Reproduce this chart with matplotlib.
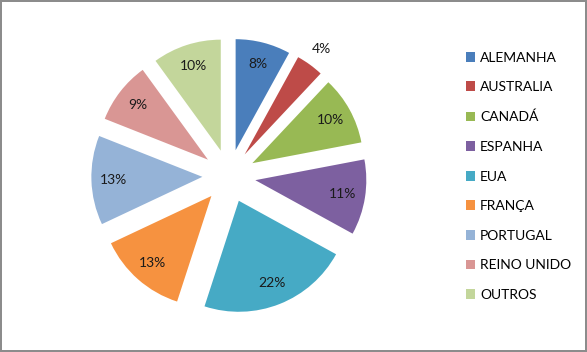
import matplotlib.pyplot as plt
import numpy as np

countries = ["ALEMANHA", "AUSTRALIA", "CANADÁ", "ESPANHA", "EUA",
             "FRANÇA", "PORTUGAL", "REINO UNIDO", "OUTROS"]
shares = [8, 4, 10, 11, 22, 13, 13, 9, 10]
colors = ["#4A7EBB", "#BE4B48", "#98B954", "#7D60A0", "#46AAC5",
          "#F69240", "#95B3D7", "#D99694", "#C3D69B"]

plt.rcParams['font.family'] = ['Lato', 'DejaVu Sans']

fig = plt.figure(figsize=(5.87, 3.52), dpi=100)
fig.patch.set_edgecolor("#8c8c8c")
fig.patch.set_linewidth(1.5)

px = 111.0
w = 2.6 * px
ax = fig.add_axes([(229 - w / 2) / 587, (176 - w / 2) / 352, w / 587, w / 352])

explode = [0.24] * len(shares)
wedges, texts, autotexts = ax.pie(shares, explode=explode, colors=colors,
                                  startangle=90, counterclock=False,
                                  autopct=lambda p: "%d%%" % round(p),
                                  pctdistance=0.8,
                                  textprops={'fontsize': 10, 'color': '#1a1a1a'})
# small slice label sits outside
wd = wedges[1]
ang = np.deg2rad((wd.theta1 + wd.theta2) / 2)
cx, cy = wd.center
autotexts[1].set_position((cx + 1.17 * np.cos(ang), cy + 1.17 * np.sin(ang)))

ax.set_xlim(-1.3, 1.3)
ax.set_ylim(-1.3, 1.3)
ax.set_aspect('equal')

fig.legend(wedges, countries, loc='upper left', bbox_to_anchor=(453 / 587, 1 - 39 / 352),
           frameon=False, fontsize=10, handlelength=0.7, handleheight=0.7,
           handletextpad=0.35, labelspacing=1.27)

fig.savefig("out.png", dpi=100)
